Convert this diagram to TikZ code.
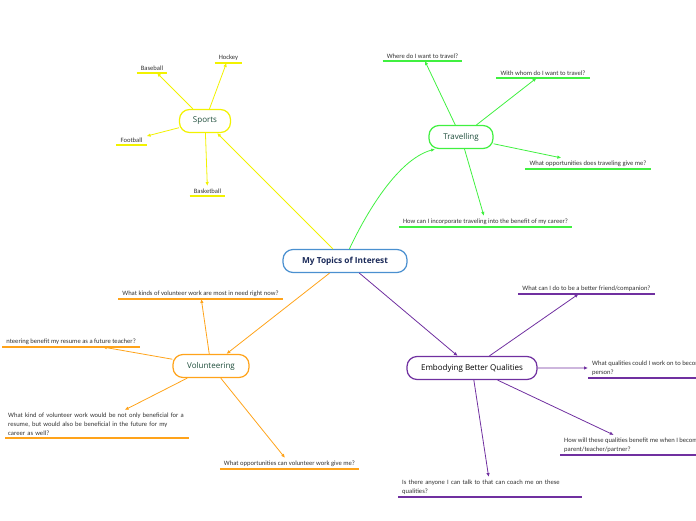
\documentclass[tikz,border=0pt]{standalone}
\usepackage{fontspec}
\setmainfont{Carlito}
\newfontfamily\topicfont{Open Sans}
\usepackage{xcolor}
\usetikzlibrary{arrows.meta}

\definecolor{centreblue}{HTML}{4A90D0}
\definecolor{centrenavy}{HTML}{1B2A59}
\definecolor{sportsyellow}{HTML}{F2F200}
\definecolor{travelgreen}{HTML}{40F040}
\definecolor{volorange}{HTML}{FFA31A}
\definecolor{qualpurple}{HTML}{7030A0}
\definecolor{topicgreen}{HTML}{1E4D3B}
\definecolor{leafgrey}{HTML}{333333}

\tikzset{
  topic/.style={draw=#1, line width=1.2pt, rounded corners=10pt, fill=white,
    minimum height=23pt, inner xsep=12pt, text=topicgreen,
    font=\topicfont\fontsize{8}{9}\selectfont},
  leaf/.style={inner xsep=4pt, inner ysep=2.5pt, align=left, text=leafgrey,
    font=\fontsize{6.6}{9}\selectfont},
  link/.style={draw=#1, line width=0.8pt, -{Latex[length=4pt,width=3.5pt]}},
  uline/.style={draw=#1, line width=1.6pt},
}

\begin{document}
\begin{tikzpicture}[x=1pt,y=-1pt]
        \useasboundingbox (0,0) rectangle (696,520);

        % main topics
        \node[topic=centreblue, text=centrenavy, minimum width=124pt,
              font=\topicfont\bfseries\fontsize{8.3}{10}\selectfont] (centre) at (345,261) {My Topics of Interest};
        \node[topic=sportsyellow, minimum width=51pt] (sports) at (205,121) {Sports};
        \node[topic=travelgreen, minimum width=64pt] (travel) at (461,137) {Travelling};
        \node[topic=volorange, minimum width=76pt] (volunteer) at (211,366) {Volunteering};
        \node[topic=qualpurple, text=black, minimum width=130pt] (qualities) at (472,368) {Embodying Better Qualities};

        % sports leaves
        \node[leaf, anchor=south] (baseball)   at (152,73)    {Baseball};
        \node[leaf, anchor=south] (hockey)     at (228.5,63)  {Hockey};
        \node[leaf, anchor=south] (football)   at (131.5,145) {Football};
        \node[leaf, anchor=south] (basketball) at (207.5,196) {Basketball};

        % travelling leaves
        \node[leaf, anchor=south] (where)    at (422.5,61) {Where do I want to travel?};
        \node[leaf, anchor=south] (withwhom) at (543,78)   {With whom do I want to travel?};
        \node[leaf, anchor=south] (chances)  at (588,169)  {What opportunities does traveling give me?};
        \node[leaf, anchor=south] (career)   at (485.5,227) {How can I incorporate traveling into the benefit of my career?};

        % volunteering leaves
        \node[leaf, anchor=south] (needs) at (200.5,299) {What kinds of volunteer work are most in need right now?};
        \node[leaf, anchor=south east] (resume) at (140,347) {nteering benefit my resume as a future teacher?};
        \node[leaf, anchor=south west, text width=178pt, inner xsep=3pt] (future) at (5,438)
             {What kind of volunteer work would be not only beneficial for a\\
              resume, but would also be beneficial in the future for my\\
              career as well?};
        \node[leaf, anchor=south] (volchances) at (289.5,469) {What opportunities can volunteer work give me?};

        % qualities leaves
        \node[leaf, anchor=south] (friend) at (586.5,294) {What can I do to be a better friend/companion?};
        \node[leaf, anchor=south west] (person) at (588,378)
             {What qualities could I work on to become a better\\person?};
        \node[leaf, anchor=south west] (parent) at (560,455)
             {How will these qualities benefit me when I become a\\parent/teacher/partner?};
        \node[leaf, anchor=south west, text width=176pt] (coach) at (398,497)
             {Is there anyone I can talk to that can coach me on these\\qualities?};

        % underlines
        \foreach \leafname in {baseball,hockey,football,basketball}
        \draw[uline=sportsyellow] (\leafname.south west) -- (\leafname.south east);
        \foreach \leafname in {where,withwhom,chances,career}
        \draw[uline=travelgreen] (\leafname.south west) -- (\leafname.south east);
        \foreach \leafname in {needs,resume,future,volchances}
        \draw[uline=volorange] (\leafname.south west) -- (\leafname.south east);
        \foreach \leafname in {friend,person,parent,coach}
        \draw[uline=qualpurple] (\leafname.south west) -- (\leafname.south east);

        % branches from the centre
        \draw[link=sportsyellow] (centre) -- (sports);
        \draw[link=travelgreen] (centre.70) .. controls (362,222) and (395,160) .. (travel.205);
        \draw[link=volorange] (centre) -- (volunteer);
        \draw[link=qualpurple] (centre) -- (qualities);

        % branches to the leaves
        \foreach \leafname in {baseball,hockey,football,basketball}
        \draw[link=sportsyellow] (sports) -- (\leafname);
        \foreach \leafname in {where,withwhom,chances,career}
        \draw[link=travelgreen] (travel) -- (\leafname);
        \foreach \leafname in {needs,resume,future,volchances}
        \draw[link=volorange] (volunteer) -- (\leafname);
        \foreach \leafname in {friend,person,parent,coach}
        \draw[link=qualpurple] (qualities) -- (\leafname);

        \end{tikzpicture}
\end{document}
